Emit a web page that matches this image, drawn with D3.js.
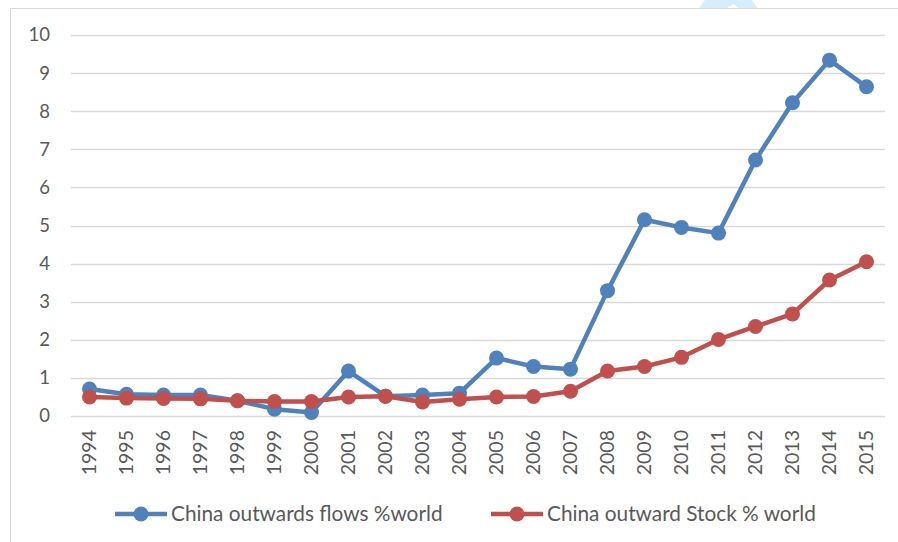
<!DOCTYPE html>
<html>
<head>
<meta charset="utf-8">
<script src="https://cdnjs.cloudflare.com/ajax/libs/d3/7.8.5/d3.min.js"></script>
<style>
  html, body { margin: 0; padding: 0; background: #fff; }
  svg { display: block; }
  text { font-family: Lato, "Open Sans", sans-serif; fill: #595959; }
</style>
</head>
<body>
<svg id="chart" width="898" height="542"></svg>
<script>
// Years on the category axis
const years = ["1994","1995","1996","1997","1998","1999","2000","2001","2002","2003","2004",
               "2005","2006","2007","2008","2009","2010","2011","2012","2013","2014","2015"];
// China outward FDI flows as % of world
const flows = [0.71,0.57,0.55,0.55,0.40,0.18,0.09,1.18,0.52,0.55,0.60,
               1.52,1.30,1.23,3.29,5.15,4.95,4.80,6.72,8.22,9.34,8.64];
// China outward FDI stock as % of world
const stock = [0.50,0.47,0.46,0.45,0.40,0.38,0.38,0.50,0.52,0.37,0.44,
               0.50,0.51,0.65,1.18,1.30,1.54,2.01,2.35,2.68,3.57,4.05];
const yTicks = [0,1,2,3,4,5,6,7,8,9,10];
const seriesNames = ["China outwards flows %world", "China outward Stock % world"];
const colors = ["#4F81BD", "#C0504D"];

const svg = d3.select("#chart");

// Small light-blue tab above the frame
svg.append("path")
  .attr("d", "M705,0 H752 L757,8 H739 L733,4 L727,8 H699 Z")
  .attr("fill", "#d6eefb");

// Chart frame (left and top edges)
svg.append("path")
  .attr("d", "M10.5,542 V8.5 H898")
  .attr("fill", "none").attr("stroke", "#d9d9d9").attr("stroke-width", 1);

const plot = { left: 71, right: 885, top: 35, bottom: 416 };

const x = d3.scaleBand().domain(years).range([plot.left, plot.right]);
const y = d3.scaleLinear().domain([0, 10]).range([plot.bottom, plot.top]);

// Horizontal gridlines
svg.append("g").selectAll("line").data(yTicks).join("line")
  .attr("x1", plot.left).attr("x2", plot.right)
  .attr("y1", d => Math.round(y(d)) + 0.5).attr("y2", d => Math.round(y(d)) + 0.5)
  .attr("stroke", "#d9d9d9").attr("stroke-width", 1.5);

// Y axis labels
const yAxis = d3.axisLeft(y).tickValues(yTicks).tickSize(0).tickPadding(0);
const gy = svg.append("g").attr("transform", "translate(50,0)").call(yAxis);
gy.select(".domain").remove();
gy.selectAll("text").attr("font-size", 18.5).attr("fill", "#595959")
  .style("font-family", "Lato, 'Open Sans', sans-serif");

// X axis labels, rotated
const xAxis = d3.axisBottom(x).tickSize(0).tickPadding(0);
const gx = svg.append("g").attr("transform", `translate(0,${plot.bottom})`).call(xAxis);
gx.select(".domain").remove();
gx.selectAll("text")
  .attr("font-size", 19.5).attr("fill", "#595959")
  .style("font-family", "Lato, 'Open Sans', sans-serif")
  .attr("text-anchor", "end").attr("dy", "0.35em")
  .attr("transform", "translate(0,14) rotate(-90)")
  .attr("x", 0).attr("y", 0);

// Series lines and markers
const cx = d => x(d) + x.bandwidth() / 2;
[flows, stock].forEach((vals, i) => {
  const pts = years.map((yr, j) => [cx(yr), y(vals[j])]);
  svg.append("path")
    .attr("d", d3.line()(pts))
    .attr("fill", "none").attr("stroke", colors[i])
    .attr("stroke-width", 4.5).attr("stroke-linejoin", "round").attr("stroke-linecap", "round");
  svg.append("g").selectAll("circle").data(pts).join("circle")
    .attr("cx", d => d[0]).attr("cy", d => d[1]).attr("r", 7.5)
    .attr("fill", colors[i]);
});

// Legend
const legendX = [115, 491];
seriesNames.forEach((name, i) => {
  const g = svg.append("g").attr("transform", `translate(${legendX[i]},514)`);
  g.append("line").attr("x1", 0).attr("x2", 52).attr("y1", 0).attr("y2", 0)
    .attr("stroke", colors[i]).attr("stroke-width", 4.5);
  g.append("circle").attr("cx", 26).attr("cy", 0).attr("r", 7.5).attr("fill", colors[i]);
  g.append("text").attr("x", 56).attr("y", 0).attr("dy", "0.35em")
    .attr("font-size", 20.8).text(name);
});
</script>
</body>
</html>
